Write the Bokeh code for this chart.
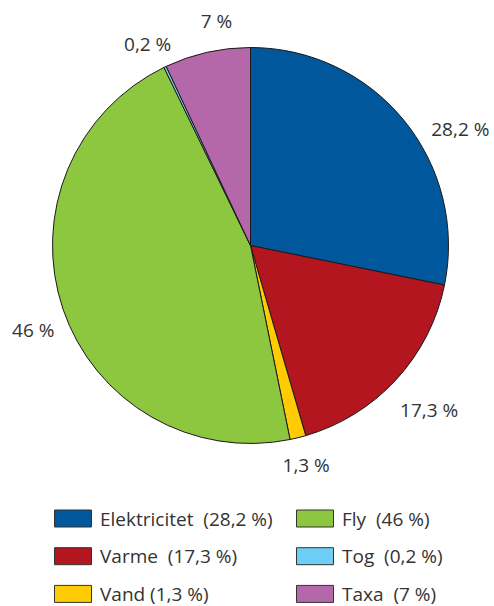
import math
from bokeh.plotting import figure
from bokeh.models import Range1d, ColumnDataSource
from bokeh.core.properties import value
from bokeh.embed import file_html
from bokeh.resources import INLINE

# ---- data ----
categories = ["Elektricitet", "Varme", "Vand", "Fly", "Tog", "Taxa"]
shares = [28.2, 17.3, 1.3, 46, 0.2, 7]
colors = ["#00579b", "#b3161f", "#ffcb05", "#8dc63f", "#6dcff6", "#b467a9"]

# ---- layout ----
W, H = 494, 606
CX, CY, R = 250, H - 245, 198
label_r = [240, 243, 226, 233, 226, 227]
label_nudge_deg = [10.2, 0, -0.4, -2.5, -1.5, 4]
FONT = "Open Sans"
FS = "19px"
TXT = "#333333"
NB2 = "\u00a0\u00a0"
legend_sep = [NB2, NB2, "\u00a0", NB2, NB2, NB2]


def fmt(v):
    return f"{v:g}".replace(".", ",") + "\u00a0%"


p = figure(width=W, height=H, output_backend="svg", toolbar_location=None,
           x_range=Range1d(0, W), y_range=Range1d(0, H), min_border=0)
p.axis.visible = False
p.grid.visible = False
p.outline_line_color = None
p.background_fill_color = "white"
p.border_fill_color = "white"

total = sum(shares)
starts, ends, lx, ly, ltxt = [], [], [], [], []
cum = 0.0
for i, s in enumerate(shares):
    c0 = cum / total * 2 * math.pi
    cum += s
    c1 = cum / total * 2 * math.pi
    starts.append(math.pi / 2 - c1)
    ends.append(math.pi / 2 - c0)
    mid = (c0 + c1) / 2 + math.radians(label_nudge_deg[i])
    lx.append(CX + label_r[i] * math.sin(mid))
    ly.append(CY + label_r[i] * math.cos(mid))
    ltxt.append(fmt(s))

src = ColumnDataSource(dict(start=starts, end=ends, color=colors))
p.wedge(x=CX, y=CY, radius=R, start_angle="start", end_angle="end",
        direction="anticlock", fill_color="color", line_color="#1a1a1a",
        line_width=1, source=src)

p.text(x=lx, y=ly, text=ltxt, text_font=value(FONT), text_font_size=FS,
       text_color=TXT, text_align="center", text_baseline="middle")

# ---- legend ----
col_x = [54, 296]
row_y0, row_step = 518, 37.7
sx, sy, tx, ty, tt = [], [], [], [], []
for i, (cat, s) in enumerate(zip(categories, shares)):
    col, row = i // 3, i % 3
    py = row_y0 + row * row_step
    sx.append(col_x[col] + 18.5)
    sy.append(H - py)
    tx.append(col_x[col] + 45.5)
    ty.append(H - py)
    tt.append(f"{cat}{legend_sep[i]}({fmt(s)})")

p.rect(x=sx, y=sy, width=37, height=17, fill_color=colors,
       line_color="#333333", line_width=1)
p.text(x=tx, y=ty, text=tt, text_font=value(FONT), text_font_size=FS,
       text_color=TXT, text_align="left", text_baseline="middle")

open("out.html", "w").write(file_html(p, INLINE))
